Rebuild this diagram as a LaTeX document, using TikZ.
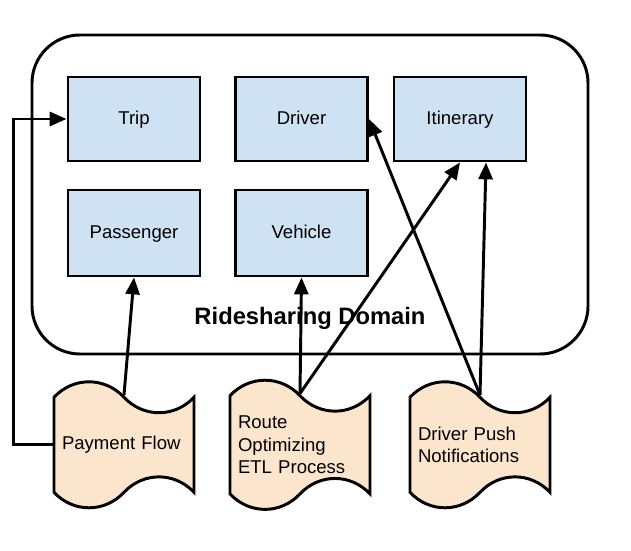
\documentclass[tikz,border=0pt]{standalone}
\usepackage{fontspec}
\setmainfont{Liberation Sans}
\usetikzlibrary{arrows.meta, shapes.symbols}

\definecolor{entityblue}{HTML}{CFE2F3}
\definecolor{flowpeach}{HTML}{FCE5CD}

\begin{document}
\begin{tikzpicture}[>={Triangle[length=12pt, width=10pt]}, line width=2.1pt,
        every node/.style={font=\fontsize{13.2}{16}\selectfont},
        entity/.style={draw, rectangle, fill=entityblue, minimum width=3.3cm, minimum height=2.1cm,
            text height=1.45ex, text depth=0pt},
        flow/.style={draw, tape, fill=flowpeach, tape bend top=out and in, tape bend bottom=in and out,
            tape bend height=22pt, text width=3.1cm, align=left, inner xsep=0.2cm, minimum height=3.15cm}]
            \useasboundingbox (0, 0) rectangle (15.775, 13.75);

            % Domain
            \draw[rounded corners=1.2cm] (0.8, 4.9) rectangle (14.7, 12.875);
            \node[text height=1.45ex, text depth=0pt] at (7.75, 5.76) (domain)
                {\fontsize{16.9}{19}\selectfont\bfseries Ridesharing Domain};

            % Nodes
            \node[entity] at (3.35, 10.775) (trip) {Trip};
            \node[entity] at (7.5375, 10.775) (driver) {Driver};
            \node[entity] at (11.5, 10.775) (itinerary) {Itinerary};
            \node[entity, minimum height=2.15cm] at (3.35, 7.925) (passenger) {Passenger};
            \node[entity, minimum height=2.15cm] at (7.5375, 7.925) (vehicle) {Vehicle};

            \node[flow] at (3.1, 2.63) (payment) {Payment Flow};
            \node[flow] at (7.5, 2.63) (route) {Route\\Optimizing\\ETL Process};
            \node[flow] at (12.0, 2.63) (push) {Driver Push\\Notifications};

            % Edges
            \draw[->] (payment.north) -- (passenger.south);
            \draw[->] (payment.west) -- ++(-0.975, 0) |- (trip.west);
            \draw[->] (route.north) -- (vehicle.south);
            \draw[->] (route.north) -- (itinerary.south);
            \draw[->] (push.north) -- (driver.east);
            \draw[->] (push.north) -- ([xshift=0.65cm]itinerary.south);
        \end{tikzpicture}
\end{document}
